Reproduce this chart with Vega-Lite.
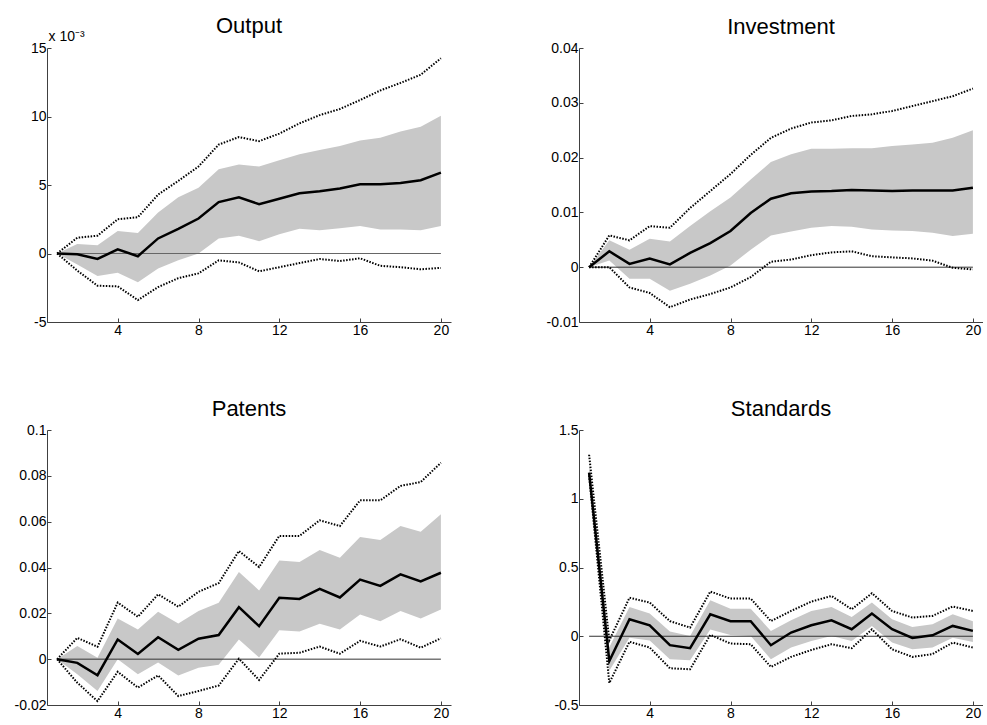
{
  "$schema": "https://vega.github.io/schema/vega-lite/v6.json",
  "background": "white",
  "padding": {"left": 14, "top": 15, "right": 0, "bottom": 0},
  "bounds": "flush",
  "columns": 2,
  "spacing": {"row": 108, "column": 128},
  "datasets": {
    "irf": [
      {"panel": "Output", "h": 1, "irf": 0.0, "blo": 0.0, "bhi": 0.0, "lo": 0.0, "hi": 0.0},
      {"panel": "Output", "h": 2, "irf": -0.00005, "blo": -0.0008, "bhi": 0.0007, "lo": -0.00125, "hi": 0.00115},
      {"panel": "Output", "h": 3, "irf": -0.0004, "blo": -0.00165, "bhi": 0.0006, "lo": -0.00235, "hi": 0.0013},
      {"panel": "Output", "h": 4, "irf": 0.0003, "blo": -0.0014, "bhi": 0.00165, "lo": -0.0024, "hi": 0.0025},
      {"panel": "Output", "h": 5, "irf": -0.0002, "blo": -0.0021, "bhi": 0.0015, "lo": -0.0034, "hi": 0.00265},
      {"panel": "Output", "h": 6, "irf": 0.0011, "blo": -0.0011, "bhi": 0.003, "lo": -0.00245, "hi": 0.0043},
      {"panel": "Output", "h": 7, "irf": 0.0018, "blo": -0.0005, "bhi": 0.0041, "lo": -0.0018, "hi": 0.0053},
      {"panel": "Output", "h": 8, "irf": 0.00255, "blo": 0.0, "bhi": 0.0048, "lo": -0.00145, "hi": 0.00635},
      {"panel": "Output", "h": 9, "irf": 0.00375, "blo": 0.0011, "bhi": 0.00615, "lo": -0.0005, "hi": 0.00795},
      {"panel": "Output", "h": 10, "irf": 0.0041, "blo": 0.0013, "bhi": 0.0065, "lo": -0.00065, "hi": 0.0085},
      {"panel": "Output", "h": 11, "irf": 0.0036, "blo": 0.0009, "bhi": 0.00635, "lo": -0.0013, "hi": 0.0082},
      {"panel": "Output", "h": 12, "irf": 0.004, "blo": 0.0014, "bhi": 0.0068, "lo": -0.001, "hi": 0.00875},
      {"panel": "Output", "h": 13, "irf": 0.0044, "blo": 0.0018, "bhi": 0.00725, "lo": -0.0007, "hi": 0.0095},
      {"panel": "Output", "h": 14, "irf": 0.00455, "blo": 0.0017, "bhi": 0.00755, "lo": -0.0004, "hi": 0.0101},
      {"panel": "Output", "h": 15, "irf": 0.00475, "blo": 0.00185, "bhi": 0.00785, "lo": -0.00055, "hi": 0.01055},
      {"panel": "Output", "h": 16, "irf": 0.00505, "blo": 0.002, "bhi": 0.00825, "lo": -0.00035, "hi": 0.0112},
      {"panel": "Output", "h": 17, "irf": 0.00505, "blo": 0.00175, "bhi": 0.00845, "lo": -0.0009, "hi": 0.0119},
      {"panel": "Output", "h": 18, "irf": 0.00515, "blo": 0.00175, "bhi": 0.0089, "lo": -0.001, "hi": 0.01245},
      {"panel": "Output", "h": 19, "irf": 0.00535, "blo": 0.0017, "bhi": 0.00925, "lo": -0.00115, "hi": 0.01305},
      {"panel": "Output", "h": 20, "irf": 0.0059, "blo": 0.002, "bhi": 0.01005, "lo": -0.00105, "hi": 0.01425},

      {"panel": "Investment", "h": 1, "irf": 0.0, "blo": 0.0, "bhi": 0.0, "lo": 0.0, "hi": 0.0},
      {"panel": "Investment", "h": 2, "irf": 0.0029, "blo": 0.0012, "bhi": 0.0049, "lo": 0.0, "hi": 0.0058},
      {"panel": "Investment", "h": 3, "irf": 0.0006, "blo": -0.0021, "bhi": 0.0032, "lo": -0.0037, "hi": 0.0049},
      {"panel": "Investment", "h": 4, "irf": 0.0016, "blo": -0.0021, "bhi": 0.0052, "lo": -0.0047, "hi": 0.0075},
      {"panel": "Investment", "h": 5, "irf": 0.0005, "blo": -0.0043, "bhi": 0.0047, "lo": -0.0073, "hi": 0.0072},
      {"panel": "Investment", "h": 6, "irf": 0.0026, "blo": -0.003, "bhi": 0.0075, "lo": -0.0059, "hi": 0.0108},
      {"panel": "Investment", "h": 7, "irf": 0.0044, "blo": -0.0015, "bhi": 0.0102, "lo": -0.0049, "hi": 0.0139},
      {"panel": "Investment", "h": 8, "irf": 0.0066, "blo": 0.0003, "bhi": 0.0127, "lo": -0.0037, "hi": 0.017},
      {"panel": "Investment", "h": 9, "irf": 0.0099, "blo": 0.0032, "bhi": 0.016, "lo": -0.0018, "hi": 0.0205},
      {"panel": "Investment", "h": 10, "irf": 0.0125, "blo": 0.0058, "bhi": 0.0192, "lo": 0.001, "hi": 0.0236},
      {"panel": "Investment", "h": 11, "irf": 0.0135, "blo": 0.0065, "bhi": 0.0206, "lo": 0.0014, "hi": 0.0253},
      {"panel": "Investment", "h": 12, "irf": 0.0138, "blo": 0.0072, "bhi": 0.0216, "lo": 0.0022, "hi": 0.0264},
      {"panel": "Investment", "h": 13, "irf": 0.0139, "blo": 0.0075, "bhi": 0.0216, "lo": 0.0027, "hi": 0.0268},
      {"panel": "Investment", "h": 14, "irf": 0.0141, "blo": 0.0074, "bhi": 0.0217, "lo": 0.0029, "hi": 0.0276},
      {"panel": "Investment", "h": 15, "irf": 0.014, "blo": 0.0069, "bhi": 0.0217, "lo": 0.002, "hi": 0.0279},
      {"panel": "Investment", "h": 16, "irf": 0.0139, "blo": 0.0067, "bhi": 0.0221, "lo": 0.0018, "hi": 0.0285},
      {"panel": "Investment", "h": 17, "irf": 0.014, "blo": 0.0066, "bhi": 0.0224, "lo": 0.0016, "hi": 0.0294},
      {"panel": "Investment", "h": 18, "irf": 0.014, "blo": 0.0063, "bhi": 0.0227, "lo": 0.0012, "hi": 0.0303},
      {"panel": "Investment", "h": 19, "irf": 0.014, "blo": 0.0057, "bhi": 0.0236, "lo": -0.0001, "hi": 0.0312},
      {"panel": "Investment", "h": 20, "irf": 0.0145, "blo": 0.0061, "bhi": 0.025, "lo": -0.0004, "hi": 0.0326},

      {"panel": "Patents", "h": 1, "irf": 0.0, "blo": 0.0, "bhi": 0.0, "lo": 0.0, "hi": 0.0},
      {"panel": "Patents", "h": 2, "irf": -0.0016, "blo": -0.0066, "bhi": 0.0057, "lo": -0.0103, "hi": 0.0093},
      {"panel": "Patents", "h": 3, "irf": -0.007, "blo": -0.0139, "bhi": 0.0006, "lo": -0.0183, "hi": 0.0054},
      {"panel": "Patents", "h": 4, "irf": 0.0086, "blo": 0.0, "bhi": 0.0177, "lo": -0.0055, "hi": 0.0247},
      {"panel": "Patents", "h": 5, "irf": 0.0023, "blo": -0.0066, "bhi": 0.0129, "lo": -0.0124, "hi": 0.0185},
      {"panel": "Patents", "h": 6, "irf": 0.0096, "blo": -0.0015, "bhi": 0.0207, "lo": -0.0071, "hi": 0.0283},
      {"panel": "Patents", "h": 7, "irf": 0.0041, "blo": -0.0071, "bhi": 0.0156, "lo": -0.0161, "hi": 0.0229},
      {"panel": "Patents", "h": 8, "irf": 0.0089, "blo": -0.0037, "bhi": 0.021, "lo": -0.0139, "hi": 0.0294},
      {"panel": "Patents", "h": 9, "irf": 0.0105, "blo": -0.0024, "bhi": 0.0246, "lo": -0.0115, "hi": 0.0332},
      {"panel": "Patents", "h": 10, "irf": 0.0227, "blo": 0.0086, "bhi": 0.038, "lo": 0.0002, "hi": 0.0472},
      {"panel": "Patents", "h": 11, "irf": 0.0144, "blo": 0.0007, "bhi": 0.03, "lo": -0.0091, "hi": 0.0402},
      {"panel": "Patents", "h": 12, "irf": 0.0268, "blo": 0.0126, "bhi": 0.0431, "lo": 0.0024, "hi": 0.0538},
      {"panel": "Patents", "h": 13, "irf": 0.0263, "blo": 0.0121, "bhi": 0.0424, "lo": 0.0028, "hi": 0.0538},
      {"panel": "Patents", "h": 14, "irf": 0.0307, "blo": 0.0155, "bhi": 0.0476, "lo": 0.0055, "hi": 0.0606},
      {"panel": "Patents", "h": 15, "irf": 0.0269, "blo": 0.013, "bhi": 0.0443, "lo": 0.0024, "hi": 0.0581},
      {"panel": "Patents", "h": 16, "irf": 0.0347, "blo": 0.0195, "bhi": 0.0533, "lo": 0.008, "hi": 0.0693},
      {"panel": "Patents", "h": 17, "irf": 0.032, "blo": 0.0166, "bhi": 0.052, "lo": 0.0055, "hi": 0.0693},
      {"panel": "Patents", "h": 18, "irf": 0.037, "blo": 0.021, "bhi": 0.0581, "lo": 0.0087, "hi": 0.0756},
      {"panel": "Patents", "h": 19, "irf": 0.0339, "blo": 0.0178, "bhi": 0.0556, "lo": 0.005, "hi": 0.0773},
      {"panel": "Patents", "h": 20, "irf": 0.0377, "blo": 0.0217, "bhi": 0.0632, "lo": 0.0091, "hi": 0.0857},

      {"panel": "Standards", "h": 1, "irf": 1.19, "blo": 1.17, "bhi": 1.25, "lo": 1.17, "hi": 1.32},
      {"panel": "Standards", "h": 2, "irf": -0.18, "blo": -0.25, "bhi": -0.08, "lo": -0.34, "hi": -0.03},
      {"panel": "Standards", "h": 3, "irf": 0.124, "blo": -0.01, "bhi": 0.213, "lo": -0.04, "hi": 0.28},
      {"panel": "Standards", "h": 4, "irf": 0.08, "blo": -0.03, "bhi": 0.165, "lo": -0.082, "hi": 0.245},
      {"panel": "Standards", "h": 5, "irf": -0.065, "blo": -0.167, "bhi": 0.034, "lo": -0.233, "hi": 0.11},
      {"panel": "Standards", "h": 6, "irf": -0.087, "blo": -0.175, "bhi": 0.002, "lo": -0.24, "hi": 0.063},
      {"panel": "Standards", "h": 7, "irf": 0.16, "blo": 0.05, "bhi": 0.262, "lo": 0.01, "hi": 0.325},
      {"panel": "Standards", "h": 8, "irf": 0.11, "blo": 0.01, "bhi": 0.2, "lo": -0.053, "hi": 0.274},
      {"panel": "Standards", "h": 9, "irf": 0.11, "blo": 0.002, "bhi": 0.2, "lo": -0.058, "hi": 0.274},
      {"panel": "Standards", "h": 10, "irf": -0.065, "blo": -0.167, "bhi": 0.039, "lo": -0.223, "hi": 0.11},
      {"panel": "Standards", "h": 11, "irf": 0.027, "blo": -0.082, "bhi": 0.116, "lo": -0.15, "hi": 0.184},
      {"panel": "Standards", "h": 12, "irf": 0.08, "blo": -0.034, "bhi": 0.184, "lo": -0.1, "hi": 0.252},
      {"panel": "Standards", "h": 13, "irf": 0.116, "blo": 0.002, "bhi": 0.213, "lo": -0.058, "hi": 0.293},
      {"panel": "Standards", "h": 14, "irf": 0.051, "blo": -0.034, "bhi": 0.14, "lo": -0.087, "hi": 0.196},
      {"panel": "Standards", "h": 15, "irf": 0.165, "blo": 0.075, "bhi": 0.245, "lo": 0.05, "hi": 0.313},
      {"panel": "Standards", "h": 16, "irf": 0.051, "blo": -0.046, "bhi": 0.124, "lo": -0.095, "hi": 0.184},
      {"panel": "Standards", "h": 17, "irf": -0.012, "blo": -0.095, "bhi": 0.068, "lo": -0.15, "hi": 0.136},
      {"panel": "Standards", "h": 18, "irf": 0.007, "blo": -0.082, "bhi": 0.087, "lo": -0.13, "hi": 0.148},
      {"panel": "Standards", "h": 19, "irf": 0.075, "blo": -0.01, "bhi": 0.16, "lo": -0.046, "hi": 0.216},
      {"panel": "Standards", "h": 20, "irf": 0.039, "blo": -0.041, "bhi": 0.11, "lo": -0.082, "hi": 0.184}
    ]
  },
  "config": {
    "view": {"stroke": null},
    "font": "Liberation Sans",
    "title": {"font": "Liberation Sans", "fontSize": 22, "fontWeight": "normal", "color": "black", "anchor": "middle", "baseline": "alphabetic", "offset": 2},
    "axis": {
      "grid": false,
      "domainColor": "#404040",
      "domainWidth": 1,
      "tickColor": "#404040",
      "tickSize": -4,
      "labelFont": "Liberation Sans",
      "labelFontSize": 14,
      "labelColor": "black",
      "labelPadding": 5,
      "title": null
    }
  },
  "concat": [
    {
      "width": 404, "height": 274,
      "title": {"text": "Output", "offset": -9},
      "data": {"name": "irf"},
      "transform": [{"filter": "datum.panel == 'Output'"}],
      "encoding": {
        "x": {"field": "h", "type": "quantitative", "scale": {"domain": [0.5, 20.5], "nice": false, "zero": false}, "axis": {"values": [4, 8, 12, 16, 20]}}
      },
      "layer": [
        {"mark": {"type": "area", "color": "#c8c8c8"}, "encoding": {
          "y": {"field": "blo", "type": "quantitative", "scale": {"domain": [-0.005, 0.015], "nice": false, "zero": false},
            "axis": {"values": [-0.005, 0, 0.005, 0.01, 0.015], "labelExpr": "'' + round(datum.value*1000)", "title": "x 10⁻³", "titleAngle": 0, "titleAlign": "left", "titleBaseline": "alphabetic", "titleX": 1, "titleY": -8, "titleFont": "Liberation Sans", "titleFontSize": 14, "titleFontWeight": "normal", "titleColor": "black"}},
          "y2": {"field": "bhi"}}},
        {"mark": {"type": "rule", "color": "#666", "strokeWidth": 1.2}, "transform": [{"filter": "datum.h == 1"}], "encoding": {"x": {"datum": 1}, "x2": {"datum": 20}, "y": {"datum": 0}}},
        {"mark": {"type": "line", "color": "black", "strokeWidth": 2, "strokeDash": [1.5, 1.5]}, "encoding": {"y": {"field": "hi", "type": "quantitative"}}},
        {"mark": {"type": "line", "color": "black", "strokeWidth": 2, "strokeDash": [1.5, 1.5]}, "encoding": {"y": {"field": "lo", "type": "quantitative"}}},
        {"mark": {"type": "line", "color": "black", "strokeWidth": 2.5}, "encoding": {"y": {"field": "irf", "type": "quantitative"}}}
      ]
    },
    {
      "width": 404, "height": 274,
      "title": "Investment",
      "data": {"name": "irf"},
      "transform": [{"filter": "datum.panel == 'Investment'"}],
      "encoding": {
        "x": {"field": "h", "type": "quantitative", "scale": {"domain": [0.5, 20.5], "nice": false, "zero": false}, "axis": {"values": [4, 8, 12, 16, 20]}}
      },
      "layer": [
        {"mark": {"type": "area", "color": "#c8c8c8"}, "encoding": {
          "y": {"field": "blo", "type": "quantitative", "scale": {"domain": [-0.01, 0.04], "nice": false, "zero": false},
            "axis": {"values": [-0.01, 0, 0.01, 0.02, 0.03, 0.04], "labelExpr": "'' + datum.value"}},
          "y2": {"field": "bhi"}}},
        {"mark": {"type": "rule", "color": "#333", "strokeWidth": 1}, "transform": [{"filter": "datum.h == 1"}], "encoding": {"x": {"datum": 1}, "x2": {"datum": 20}, "y": {"datum": 0}}},
        {"mark": {"type": "line", "color": "black", "strokeWidth": 2, "strokeDash": [1.5, 1.5]}, "encoding": {"y": {"field": "hi", "type": "quantitative"}}},
        {"mark": {"type": "line", "color": "black", "strokeWidth": 2, "strokeDash": [1.5, 1.5]}, "encoding": {"y": {"field": "lo", "type": "quantitative"}}},
        {"mark": {"type": "line", "color": "black", "strokeWidth": 2.5}, "encoding": {"y": {"field": "irf", "type": "quantitative"}}}
      ]
    },
    {
      "width": 404, "height": 275,
      "title": "Patents",
      "data": {"name": "irf"},
      "transform": [{"filter": "datum.panel == 'Patents'"}],
      "encoding": {
        "x": {"field": "h", "type": "quantitative", "scale": {"domain": [0.5, 20.5], "nice": false, "zero": false}, "axis": {"values": [4, 8, 12, 16, 20]}}
      },
      "layer": [
        {"mark": {"type": "area", "color": "#c8c8c8"}, "encoding": {
          "y": {"field": "blo", "type": "quantitative", "scale": {"domain": [-0.02, 0.1], "nice": false, "zero": false},
            "axis": {"values": [-0.02, 0, 0.02, 0.04, 0.06, 0.08, 0.1], "labelExpr": "'' + datum.value"}},
          "y2": {"field": "bhi"}}},
        {"mark": {"type": "rule", "color": "#333", "strokeWidth": 1}, "transform": [{"filter": "datum.h == 1"}], "encoding": {"x": {"datum": 1}, "x2": {"datum": 20}, "y": {"datum": 0}}},
        {"mark": {"type": "line", "color": "black", "strokeWidth": 2, "strokeDash": [1.5, 1.5]}, "encoding": {"y": {"field": "hi", "type": "quantitative"}}},
        {"mark": {"type": "line", "color": "black", "strokeWidth": 2, "strokeDash": [1.5, 1.5]}, "encoding": {"y": {"field": "lo", "type": "quantitative"}}},
        {"mark": {"type": "line", "color": "black", "strokeWidth": 2.5}, "encoding": {"y": {"field": "irf", "type": "quantitative"}}}
      ]
    },
    {
      "width": 404, "height": 275,
      "title": "Standards",
      "data": {"name": "irf"},
      "transform": [{"filter": "datum.panel == 'Standards'"}],
      "encoding": {
        "x": {"field": "h", "type": "quantitative", "scale": {"domain": [0.5, 20.5], "nice": false, "zero": false}, "axis": {"values": [4, 8, 12, 16, 20]}}
      },
      "layer": [
        {"mark": {"type": "area", "color": "#c8c8c8"}, "encoding": {
          "y": {"field": "blo", "type": "quantitative", "scale": {"domain": [-0.5, 1.5], "nice": false, "zero": false},
            "axis": {"values": [-0.5, 0, 0.5, 1, 1.5], "labelExpr": "'' + datum.value"}},
          "y2": {"field": "bhi"}}},
        {"mark": {"type": "rule", "color": "#333", "strokeWidth": 1}, "transform": [{"filter": "datum.h == 1"}], "encoding": {"x": {"datum": 1}, "x2": {"datum": 20}, "y": {"datum": 0}}},
        {"mark": {"type": "line", "color": "black", "strokeWidth": 2, "strokeDash": [1.5, 1.5]}, "encoding": {"y": {"field": "hi", "type": "quantitative"}}},
        {"mark": {"type": "line", "color": "black", "strokeWidth": 2, "strokeDash": [1.5, 1.5]}, "encoding": {"y": {"field": "lo", "type": "quantitative"}}},
        {"mark": {"type": "line", "color": "black", "strokeWidth": 2.5}, "encoding": {"y": {"field": "irf", "type": "quantitative"}}}
      ]
    }
  ]
}
